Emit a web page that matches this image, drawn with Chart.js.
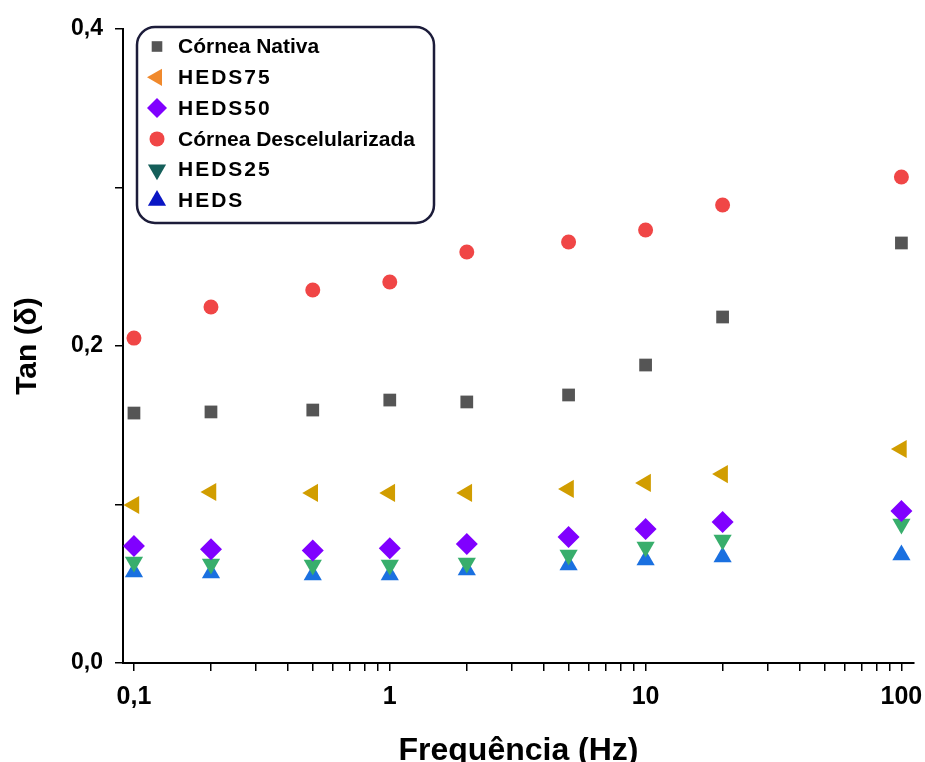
<!DOCTYPE html>
<html>
<head>
<meta charset="utf-8">
<script src="https://cdn.jsdelivr.net/npm/chart.js@4.4.0/dist/chart.umd.min.js"></script>
<style>
  html, body { margin: 0; padding: 0; background: #fff; }
  #wrap { width: 925px; height: 762px; position: relative; }
</style>
</head>
<body>
<div id="wrap"><canvas id="tanChart"></canvas></div>
<script>
// Frequency sweep values (Hz)
const freqs = [0.1, 0.2, 0.5, 1, 2, 5, 10, 20, 100];

// Tan(delta) per sample
const corneaNativa = [0.1577, 0.1584, 0.1596, 0.1659, 0.1647, 0.1691, 0.1880, 0.2183, 0.2650];
const heds75 = [0.0997, 0.1079, 0.1073, 0.1073, 0.1073, 0.1098, 0.1136, 0.1192, 0.1350];
const heds50 = [0.0738, 0.0717, 0.0709, 0.0724, 0.0751, 0.0795, 0.0845, 0.0890, 0.0959];
const corneaDescel = [0.2050, 0.2246, 0.2353, 0.2404, 0.2593, 0.2656, 0.2732, 0.2890, 0.3066];
const heds25 = [0.0637, 0.0625, 0.0618, 0.0618, 0.0631, 0.0681, 0.0732, 0.0776, 0.0877];
const heds = [0.0574, 0.0568, 0.0555, 0.0555, 0.0587, 0.0618, 0.0650, 0.0669, 0.0681];

// Axis ticks
const xTickValues = [0.1, 0.2, 0.3, 0.4, 0.5, 0.6, 0.7, 0.8, 0.9,
                     1, 2, 3, 4, 5, 6, 7, 8, 9,
                     10, 20, 30, 40, 50, 60, 70, 80, 90, 100];
const xTickLabels = { 0.1: '0,1', 1: '1', 10: '10', 100: '100' };
const yTickLabels = { 0: '0,0', 2: '0,2', 4: '0,4' };

const BOLD = 'Arial, "Liberation Sans", sans-serif';

function pts(ys) {
    return freqs.map((f, i) => ({ x: f, y: ys[i] }));
}

const series = [
    { label: 'Córnea Nativa', data: corneaNativa, color: '#555555', legendColor: '#555555', style: 'rect', rot: 0, r: 9, lr: 7.5, spacing: 0 },
    { label: 'HEDS75', data: heds75, color: '#D19D00', legendColor: '#F0892C', style: 'triangle', rot: -90, r: 10.5, lr: 10, spacing: 2 },
    { label: 'HEDS50', data: heds50, color: '#8000FF', legendColor: '#8000FF', style: 'rectRot', rot: 0, r: 11, lr: 10, spacing: 2 },
    { label: 'Córnea Descelularizada', data: corneaDescel, color: '#F04646', legendColor: '#F04646', style: 'circle', rot: 0, r: 7.5, lr: 7.5, spacing: 0 },
    { label: 'HEDS25', data: heds25, color: '#38AE6C', legendColor: '#155F5A', style: 'triangle', rot: 180, r: 10.5, lr: 10.5, spacing: 2 },
    { label: 'HEDS', data: heds, color: '#1A70E0', legendColor: '#0A16C4', style: 'triangle', rot: 0, r: 10.5, lr: 10.5, spacing: 2 }
];

// Rounded legend box drawn inside the plot
const boxLegend = {
    id: 'boxLegend',
    afterDraw(chart) {
        const ctx = chart.ctx;
        const x0 = 137, y0 = 27, w = 297, h = 196, rad = 18;
        ctx.save();
        ctx.beginPath();
        ctx.roundRect(x0, y0, w, h, rad);
        ctx.fillStyle = '#ffffff';
        ctx.fill();
        ctx.lineWidth = 2.5;
        ctx.strokeStyle = '#1c1c3a';
        ctx.stroke();

        ctx.font = 'bold 21px ' + BOLD;
        ctx.textBaseline = 'middle';
        ctx.textAlign = 'left';
        series.forEach((s, i) => {
            const y = 46.5 + i * 30.8;
            ctx.fillStyle = s.legendColor;
            ctx.strokeStyle = s.legendColor;
            Chart.helpers.drawPoint(ctx, {
                pointStyle: s.style, rotation: s.rot, radius: s.lr, borderWidth: 0
            }, 157, y);
            ctx.fillStyle = '#000';
            ctx.letterSpacing = s.spacing + 'px';
            ctx.fillText(s.label, 178, y + 1);
        });
        ctx.restore();
    }
};

function buildChart() {
    const ctx = document.getElementById('tanChart');
    new Chart(ctx, {
        type: 'scatter',
        data: {
            datasets: series.map(s => ({
                label: s.label,
                data: pts(s.data),
                backgroundColor: s.color,
                borderColor: s.color,
                borderWidth: 0,
                pointStyle: s.style,
                pointRotation: s.rot,
                pointRadius: s.r,
                pointHoverRadius: s.r
            }))
        },
        plugins: [boxLegend],
        options: {
            responsive: true,
            maintainAspectRatio: false,
            animation: false,
            layout: { padding: { top: 29, right: 10, left: 0, bottom: 0 } },
            scales: {
                x: {
                    type: 'logarithmic',
                    min: 0.0906,
                    max: 112,
                    afterBuildTicks: (scale) => {
                        scale.ticks = xTickValues.map(v => ({ value: v }));
                    },
                    afterFit: (scale) => {
                        scale.height = 99;
                        scale.paddingLeft = 0;
                        scale.paddingRight = 0;
                    },
                    border: { color: '#000', width: 2 },
                    grid: {
                        drawOnChartArea: false,
                        drawTicks: true,
                        tickLength: 8,
                        color: '#000',
                        lineWidth: 1.5
                    },
                    ticks: {
                        autoSkip: false,
                        maxRotation: 0,
                        padding: 11,
                        color: '#000',
                        font: { family: BOLD, size: 25, weight: 'bold' },
                        callback: (value) => xTickLabels[value] || ''
                    },
                    title: {
                        display: true,
                        text: 'Frequência (Hz)',
                        color: '#000',
                        padding: 0,
                        font: { family: BOLD, size: 32, weight: 'bold', lineHeight: 0.7 }
                    }
                },
                y: {
                    min: 0,
                    max: 0.4,
                    afterFit: (scale) => { scale.width = 123; },
                    border: { color: '#000', width: 2 },
                    grid: {
                        drawOnChartArea: false,
                        drawTicks: true,
                        tickLength: 8,
                        color: '#000',
                        lineWidth: 1.5
                    },
                    ticks: {
                        stepSize: 0.1,
                        padding: 12,
                        color: '#000',
                        font: { family: BOLD, size: 23, weight: 'bold' },
                        callback: (value) => yTickLabels[Math.round(value * 10)] || ''
                    },
                    title: {
                        display: true,
                        text: 'Tan (δ)',
                        color: '#000',
                        padding: { top: 10 },
                        font: { family: BOLD, size: 30, weight: 'bold' }
                    }
                }
            },
            plugins: {
                legend: { display: false },
                tooltip: { enabled: false }
            }
        }
    });
}

document.fonts.load('bold 21px Arial').then(buildChart, buildChart);
</script>
</body>
</html>
